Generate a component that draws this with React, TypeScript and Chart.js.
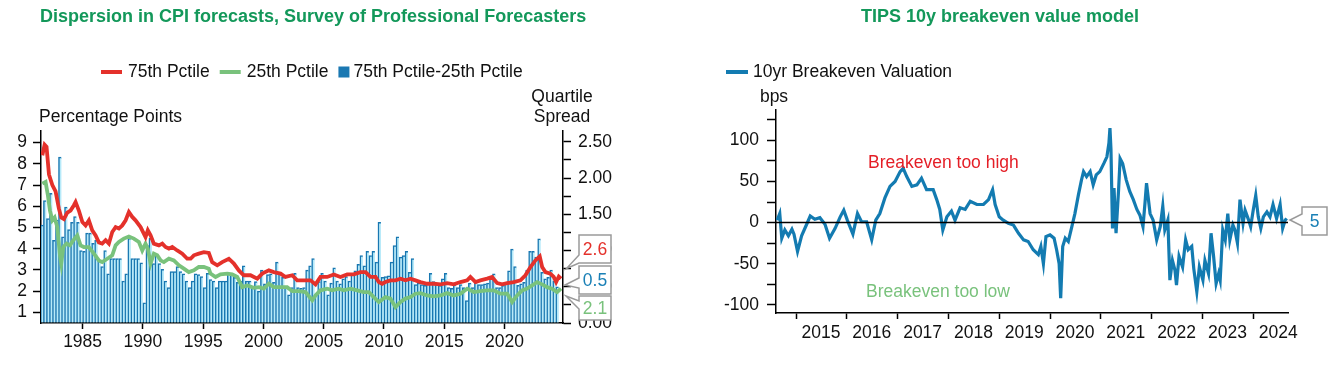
import React, { useEffect, useRef } from 'react';
import { Chart, registerables } from 'chart.js';
Chart.register(...registerables);

const FONT = "'Liberation Sans', Arial, Helvetica, sans-serif";
const TEXT = '#111111';
const TITLE_GREEN = '#13985a';
const RED = '#e4312b';
const GREEN = '#79c27c';
const BAR_DARK = '#1877b1';
const BAR_LIGHT = '#b7eaf9';
const BE_BLUE = '#137bb1';

// ---------------- Left chart data ----------------
const LEFT_TITLE = 'Dispersion in CPI forecasts, Survey of Professional Forecasters';
const FIRST_QUARTER_MID = 1981.625; // 1981Q3
const spreadValues = [
  1.35, 1.69, 1.44, 1.79, 1.14, 1.42, 2.29, 1.19, 1.60, 1.29,
  1.39, 1.47, 1.39, 1.00, 0.99, 1.24, 1.24, 1.10, 1.14, 0.86,
  0.78, 1.00, 0.68, 0.89, 0.89, 0.89, 0.89, 0.58, 0.68, 1.17,
  0.89, 0.89, 0.89, 0.83, 0.28, 1.07, 1.17, 0.82, 0.93, 0.82,
  0.74, 0.58, 0.49, 0.71, 0.71, 0.78, 0.71, 0.68, 0.58, 0.49,
  0.58, 0.68, 0.67,
  0.64, 0.49, 0.685, 0.60, 0.58, 0.49, 0.58, 0.58, 0.58, 0.685,
  0.685, 0.63, 0.56, 0.58, 0.79, 0.58, 0.58, 0.49, 0.57, 0.44,
  0.73, 0.54, 0.67, 0.68, 0.56, 0.84, 0.70, 0.63, 0.49, 0.39,
  0.49, 0.685, 0.49, 0.48, 0.49, 0.73, 0.79, 0.89, 0.40, 0.57,
  0.685, 0.58, 0.39, 0.55, 0.76, 0.58, 0.54, 0.61, 0.64, 0.58,
  0.68, 0.72, 0.81, 0.93, 0.79, 0.99, 0.93, 0.99, 0.84, 1.39,
  0.63, 0.64, 0.65, 0.84, 1.07, 1.19, 0.91, 0.93, 0.99, 0.70,
  0.89, 0.53, 0.55, 0.53, 0.52, 0.54, 0.685, 0.57, 0.54, 0.52,
  0.61, 0.685, 0.49, 0.48, 0.53, 0.49, 0.53, 0.49, 0.31, 0.55,
  0.49, 0.56, 0.53, 0.53, 0.54, 0.55, 0.63, 0.68, 0.49, 0.49,
  0.52, 0.56, 0.72, 1.02, 0.78, 0.52, 0.54, 0.56, 0.73, 0.99,
  0.99, 0.91, 1.16, 0.70, 0.61, 0.63, 0.73, 0.58, 0.50,
];

const p75Years = [
  1981.66, 1981.85, 1982.01, 1982.21, 1982.49, 1982.76, 1983.03, 1983.23, 1983.45, 1983.73,
  1984.0, 1984.28, 1984.42, 1984.69, 1984.98, 1985.25, 1985.52, 1985.8, 1986.08, 1986.35,
  1986.63, 1986.91, 1987.18, 1987.46, 1987.74, 1988.01, 1988.29, 1988.57, 1988.84, 1989.12,
  1989.39, 1989.81, 1990.22, 1990.41, 1990.64, 1990.91, 1991.33, 1991.61, 1991.88, 1992.16,
  1992.44, 1992.85, 1993.27, 1993.68, 1993.96, 1994.23, 1994.64, 1995.06, 1995.47, 1995.75,
  1996.17, 1996.58, 1997.13, 1997.55, 1997.96, 1998.37, 1998.93, 1999.49, 1999.9, 2000.45,
  2000.86, 2001.42, 2001.83, 2002.39, 2002.8, 2003.35, 2003.91, 2004.32, 2004.73, 2005.29,
  2005.84, 2006.39, 2006.95, 2007.5, 2008.05, 2008.47, 2008.88, 2009.3, 2009.57, 2009.85,
  2010.12, 2010.54, 2010.95, 2011.37, 2011.78, 2012.2, 2012.61, 2013.03, 2013.58, 2014.13,
  2014.69, 2015.24, 2015.79, 2016.34, 2016.9, 2017.17, 2017.59, 2018.0, 2018.56, 2018.97,
  2019.39, 2019.8, 2020.22, 2020.76, 2021.32, 2021.73, 2022.15, 2022.56, 2022.92, 2023.12,
  2023.39, 2023.8, 2024.08, 2024.28, 2024.5, 2024.69,
];
const p75Values = [
  8.4, 8.9, 8.8, 7.5, 7.0, 6.7, 5.9, 5.47, 5.4, 5.7,
  5.8, 6.05, 6.2, 5.8, 5.26, 5.1, 5.34, 4.87, 4.63, 4.3,
  4.24, 4.4, 4.24, 4.79, 5.02, 4.95, 5.1, 5.34, 5.73, 5.5,
  5.34, 5.02, 4.55, 4.87, 4.63, 4.24, 4.16, 4.24, 4.08, 4.0,
  4.08, 3.92, 3.77, 3.53, 3.53, 3.69, 3.77, 3.84, 3.8, 3.37,
  3.22, 3.37, 3.53, 3.3, 2.98, 2.75, 2.75, 2.59, 2.83, 2.98,
  2.9, 2.83, 2.67, 2.75, 2.51, 2.51, 2.51, 2.32, 2.67, 2.67,
  2.79, 2.67, 2.79, 2.79, 2.9, 2.9, 2.67, 2.67, 2.43, 2.35,
  2.43, 2.51, 2.51, 2.59, 2.51, 2.59, 2.51, 2.43, 2.35, 2.35,
  2.32, 2.38, 2.32, 2.43, 2.51, 2.67, 2.43, 2.51, 2.59, 2.67,
  2.38, 2.32, 2.38, 2.43, 2.51, 2.75, 3.14, 3.45, 3.64, 3.14,
  2.9, 2.83, 2.67, 2.43, 2.69, 2.59,
];

const p25Years = [
  1981.66, 1981.93, 1982.12, 1982.29, 1982.49, 1982.68, 1982.9, 1983.12, 1983.23, 1983.4,
  1983.67, 1983.95, 1984.23, 1984.56, 1984.83, 1985.11, 1985.52, 1985.94, 1986.35, 1986.63,
  1987.05, 1987.46, 1987.74, 1988.01, 1988.42, 1988.84, 1989.25, 1989.67, 1989.95, 1990.22,
  1990.41, 1990.64, 1990.91, 1991.19, 1991.47, 1991.74, 1992.16, 1992.57, 1992.99, 1993.4,
  1993.81, 1994.23, 1994.64, 1995.06, 1995.47, 1995.61, 1996.03, 1996.44, 1997.0, 1997.41,
  1997.83, 1998.24, 1998.66, 1999.2, 1999.62, 2000.03, 2000.45, 2000.86, 2001.42, 2001.97,
  2002.39, 2002.94, 2003.49, 2004.05, 2004.32, 2004.73, 2005.29, 2005.7, 2006.25, 2006.67,
  2007.22, 2007.78, 2008.33, 2008.74, 2009.15, 2009.57, 2010.12, 2010.54, 2010.95, 2011.37,
  2011.78, 2012.2, 2012.61, 2013.03, 2013.58, 2014.13, 2014.69, 2015.24, 2015.79, 2016.34,
  2016.9, 2017.45, 2018.0, 2018.56, 2019.1, 2019.66, 2020.22, 2020.63, 2021.04, 2021.46,
  2021.87, 2022.29, 2022.7, 2023.12, 2023.53, 2023.94, 2024.36, 2024.69,
];
const p25Values = [
  7.07, 7.15, 6.52, 5.81, 5.34, 5.47, 5.02, 3.69, 3.3, 4.08,
  4.24, 4.16, 4.4, 4.63, 4.16, 4.08, 4.08, 3.77, 3.45, 3.37,
  3.53, 3.69, 4.16, 4.32, 4.48, 4.58, 4.48, 4.32, 3.92, 4.24,
  4.0, 3.3, 3.77, 3.69, 3.45, 3.37, 3.53, 3.45, 3.22, 3.06,
  2.9, 2.98, 3.14, 3.14, 3.06, 2.83, 2.67, 2.79, 2.83, 2.79,
  2.67, 2.19, 2.27, 2.16, 2.19, 2.12, 2.35, 2.19, 2.19, 2.19,
  2.0, 2.0, 1.96, 1.57, 1.8, 2.04, 2.12, 2.04, 2.12, 2.04,
  2.12, 2.04, 1.96, 1.96, 1.72, 1.49, 1.72, 1.65, 1.25, 1.49,
  1.65, 1.72, 1.88, 1.91, 1.8, 1.76, 1.8, 1.91, 1.8, 1.88,
  2.12, 1.96, 2.0, 2.04, 2.04, 1.88, 1.88, 1.49, 1.8, 2.04,
  2.12, 2.27, 2.43, 2.32, 2.19, 2.12, 1.96, 2.12,
];

const leftXTicks = [1985, 1990, 1995, 2000, 2005, 2010, 2015, 2020];
const leftYTicks = [1, 2, 3, 4, 5, 6, 7, 8, 9];
const spreadTicks = [0, 0.25, 0.5, 0.75, 1, 1.25, 1.5, 1.75, 2, 2.25, 2.5];
const leftLegend = [
  { label: '75th Pctile', color: RED, kind: 'line' },
  { label: '25th Pctile', color: GREEN, kind: 'line' },
  { label: '75th Pctile-25th Pctile', color: '#1a78b2', kind: 'box' },
];
const leftCallouts = [
  { text: '2.6', color: RED, box: [579, 235, 32, 28], tip: [566.5, 268.5], base: [255, 263] },
  { text: '0.5', color: '#1a80b6', box: [579, 266, 32, 28], tip: [565, 285], base: [278, 288] },
  { text: '2.1', color: GREEN, box: [579, 296, 32, 24], tip: [566, 296], base: [301, 309] },
];

// ---------------- Right chart data ----------------
const RIGHT_TITLE = 'TIPS 10y breakeven value model';
const beYears = [
  2014.63, 2014.68, 2014.72, 2014.78, 2014.85, 2014.92, 2014.96, 2015.03, 2015.11, 2015.21,
  2015.28, 2015.37, 2015.47, 2015.57, 2015.66, 2015.77, 2015.87, 2015.94, 2016.01, 2016.12,
  2016.21, 2016.29, 2016.39, 2016.49, 2016.57, 2016.65, 2016.75, 2016.85, 2016.95, 2017.05,
  2017.11, 2017.18, 2017.28, 2017.38, 2017.47, 2017.57, 2017.7, 2017.77, 2017.83, 2017.89,
  2017.97, 2018.06, 2018.13, 2018.23, 2018.33, 2018.43, 2018.56, 2018.69, 2018.79, 2018.87,
  2018.92, 2019.0, 2019.08, 2019.18, 2019.28, 2019.38, 2019.48, 2019.57, 2019.67, 2019.77,
  2019.82, 2019.87, 2019.92, 2020.0, 2020.08, 2020.13, 2020.18, 2020.21, 2020.25, 2020.3,
  2020.36, 2020.43, 2020.49, 2020.56, 2020.62, 2020.66, 2020.72, 2020.79, 2020.85, 2020.91,
  2020.98, 2021.06, 2021.12, 2021.16, 2021.18, 2021.2, 2021.23, 2021.26, 2021.3, 2021.35,
  2021.38, 2021.43, 2021.5, 2021.57, 2021.64, 2021.71, 2021.77, 2021.83, 2021.87, 2021.9,
  2021.97, 2022.03, 2022.1, 2022.17, 2022.22, 2022.26, 2022.32, 2022.36, 2022.41, 2022.46,
  2022.49, 2022.54, 2022.61, 2022.67, 2022.72, 2022.79, 2022.83, 2022.89, 2022.94, 2023.01,
  2023.05, 2023.12, 2023.17, 2023.22, 2023.27, 2023.32, 2023.35, 2023.4, 2023.45, 2023.5,
  2023.54, 2023.6, 2023.64, 2023.69, 2023.74, 2023.8, 2023.84, 2023.91, 2023.95, 2024.0,
  2024.05, 2024.1, 2024.15, 2024.2, 2024.27, 2024.33, 2024.39, 2024.46, 2024.53, 2024.58,
  2024.63, 2024.66,
];
const beValues = [
  3, 11, -19, -9, -16, -8, -14, -35, -16, -2,
  8, 4, 6, -2, -19, -7, 7, 15, 3, -14,
  11, 1, 1, -21, 3, 11, 30, 44, 50, 62,
  66, 56, 44, 46, 54, 40, 40, 28, 16, -9,
  7, 14, 3, 18, 16, 26, 22, 22, 28, 40,
  22, 7, 3, -1, -3, -13, -21, -23, -33, -39,
  -29, -50, -17, -15, -19, -33, -50, -92, -29, -19,
  -23, -5, 11, 34, 52, 62, 56, 62, 46, 58,
  62, 72, 80, 97, 115, 89, -7, 42, -13, 40,
  78, 72, 52, 38, 28, 16, 9, -5, 24, 48,
  11, 3, -21, -5, 20, -9, 3, -70, -46, -58,
  -76, -41, -54, -21, -33, -29, -56, -84, -54, -70,
  -46, -62, -13, -41, -74, -62, -70, -9, -21, 11,
  -21, -3, -9, -25, 28, -1, 15, 3, -5, 15,
  33, 7, -7, 7, 13, 7, 22, 5, 22, -7,
  3, 5,
];
const beXTicks = [2015, 2016, 2017, 2018, 2019, 2020, 2021, 2022, 2023, 2024];
const beYTicks = [-100, -75, -50, -25, 0, 25, 50, 75, 100, 125];

// ---------------- helpers ----------------
const tickFont = { family: FONT, size: 17.5 };
const axisGrid = (len: number) => ({
  offset: false,
  drawOnChartArea: false,
  drawTicks: true,
  tickLength: len,
  tickColor: '#000',
  tickWidth: 1.5,
  color: '#000',
});
const axisBorder = { display: true, color: '#000', width: 1.5 };
const setTicks = (arr: number[]) => (scale: any) => {
  scale.ticks = arr.map((v) => ({ value: v }));
};

function drawCallout(ctx: CanvasRenderingContext2D, c: any) {
  const [bx, by, bw, bh] = c.box;
  const [tx, ty] = c.tip;
  const [b1, b2] = c.base;
  ctx.beginPath();
  ctx.moveTo(bx, by);
  ctx.lineTo(bx + bw, by);
  ctx.lineTo(bx + bw, by + bh);
  ctx.lineTo(bx, by + bh);
  ctx.lineTo(bx, b2);
  ctx.lineTo(tx, ty);
  ctx.lineTo(bx, b1);
  ctx.closePath();
  ctx.fillStyle = '#ffffff';
  ctx.fill();
  ctx.strokeStyle = '#9a9a9a';
  ctx.lineWidth = 1.5;
  ctx.stroke();
  ctx.fillStyle = c.color;
  ctx.textAlign = 'center';
  ctx.textBaseline = 'middle';
  ctx.font = `17.5px ${FONT}`;
  ctx.fillText(c.text, bx + bw / 2, by + bh / 2 + 1);
}

const leftOverlay = {
  id: 'leftOverlay',
  afterDraw(chart: any) {
    const ctx: CanvasRenderingContext2D = chart.ctx;
    ctx.save();
    ctx.textBaseline = 'middle';
    ctx.textAlign = 'left';
    ctx.font = `bold 18px ${FONT}`;
    ctx.fillStyle = TITLE_GREEN;
    ctx.fillText(LEFT_TITLE, 40, 17);

    ctx.font = `17.5px ${FONT}`;
    let x = 101;
    const ly = 72;
    leftLegend.forEach((item) => {
      ctx.fillStyle = item.color;
      if (item.kind === 'line') {
        ctx.fillRect(x, ly - 2, 21, 4);
        x += 27;
      } else {
        ctx.fillRect(x, ly - 5.5, 11, 11);
        x += 15;
      }
      ctx.fillStyle = TEXT;
      ctx.fillText(item.label, x, ly);
      x += ctx.measureText(item.label).width + 10;
    });

    ctx.fillStyle = TEXT;
    ctx.fillText('Percentage Points', 39, 117);
    ctx.textAlign = 'center';
    ctx.fillText('Quartile', 562, 97);
    ctx.fillText('Spread', 562, 117);

    leftCallouts.forEach((c) => drawCallout(ctx, c));
    ctx.restore();
  },
};

const rightOverlay = {
  id: 'rightOverlay',
  afterDatasetsDraw(chart: any) {
    const ctx: CanvasRenderingContext2D = chart.ctx;
    const y0 = chart.scales.y.getPixelForValue(0);
    ctx.save();
    ctx.strokeStyle = '#000';
    ctx.lineWidth = 1.5;
    ctx.beginPath();
    ctx.moveTo(chart.chartArea.left, y0);
    ctx.lineTo(chart.chartArea.right, y0);
    ctx.stroke();
    ctx.restore();
  },
  afterDraw(chart: any) {
    const ctx: CanvasRenderingContext2D = chart.ctx;
    ctx.save();
    ctx.textBaseline = 'middle';
    ctx.textAlign = 'center';
    ctx.font = `bold 18px ${FONT}`;
    ctx.fillStyle = TITLE_GREEN;
    ctx.fillText(RIGHT_TITLE, 333, 17);

    ctx.font = `17.5px ${FONT}`;
    ctx.textAlign = 'left';
    ctx.fillStyle = BE_BLUE;
    ctx.fillRect(59, 70, 22, 4);
    ctx.fillStyle = TEXT;
    ctx.fillText('10yr Breakeven Valuation', 86, 72);

    ctx.textAlign = 'center';
    ctx.fillText('bps', 107, 97);

    ctx.textAlign = 'left';
    ctx.fillStyle = '#e41e26';
    ctx.fillText('Breakeven too high', 201, 163);
    ctx.fillStyle = GREEN;
    ctx.fillText('Breakeven too low', 199, 292);

    drawCallout(ctx, {
      text: '5',
      color: '#1a80b6',
      box: [635, 207, 25, 28],
      tip: [623, 220],
      base: [214, 226],
    });
    ctx.restore();
  },
};

function leftConfig(): any {
  return {
    type: 'bar',
    data: {
      datasets: [
        {
          type: 'line',
          label: '75th Pctile',
          data: p75Years.map((x, i) => ({ x, y: p75Values[i] })),
          borderColor: RED,
          borderWidth: 3.8,
          pointRadius: 0,
          tension: 0,
          yAxisID: 'y',
          order: 0,
        },
        {
          type: 'line',
          label: '25th Pctile',
          data: p25Years.map((x, i) => ({ x, y: p25Values[i] })),
          borderColor: GREEN,
          borderWidth: 3.8,
          pointRadius: 0,
          tension: 0,
          yAxisID: 'y',
          order: 1,
        },
        {
          type: 'bar',
          label: '75th Pctile-25th Pctile',
          data: spreadValues.map((v, i) => ({ x: FIRST_QUARTER_MID + i * 0.25, y: v })),
          backgroundColor: BAR_LIGHT,
          borderColor: BAR_DARK,
          borderWidth: { left: 2.3, top: 1.5, right: 0, bottom: 0 },
          borderSkipped: false,
          barPercentage: 1,
          categoryPercentage: 1,
          yAxisID: 'y1',
          order: 2,
        },
      ],
    },
    options: {
      responsive: false,
      animation: false,
      devicePixelRatio: 1,
      layout: { padding: { top: 131, left: 0, right: 0, bottom: 0 } },
      plugins: { legend: { display: false }, tooltip: { enabled: false } },
      scales: {
        x: {
          type: 'linear',
          offset: false,
          min: 1981.55,
          max: 2024.85,
          afterBuildTicks: setTicks(leftXTicks),
          afterFit: (s: any) => { s.height = 42; },
          ticks: { callback: (v: any) => String(v), font: tickFont, color: TEXT, padding: 3, maxRotation: 0, autoSkip: false },
          grid: axisGrid(6),
          border: axisBorder,
        },
        y: {
          position: 'left',
          min: 0.5,
          max: 9.55,
          afterBuildTicks: setTicks(leftYTicks),
          afterFit: (s: any) => { s.width = 41; },
          ticks: { callback: (v: any) => String(v), font: tickFont, color: TEXT, padding: 6, autoSkip: false },
          grid: axisGrid(8),
          border: axisBorder,
        },
        y1: {
          position: 'right',
          min: 0,
          max: 2.65,
          afterBuildTicks: setTicks(spreadTicks),
          afterFit: (s: any) => { s.width = 104; },
          ticks: {
            callback: (v: any) => (Math.abs(v * 2 - Math.round(v * 2)) < 1e-6 ? Number(v).toFixed(2) : ''),
            font: tickFont,
            color: TEXT,
            padding: 7,
            autoSkip: false,
          },
          grid: axisGrid(8),
          border: axisBorder,
        },
      },
    },
    plugins: [leftOverlay],
  };
}

function rightConfig(): any {
  return {
    type: 'line',
    data: {
      datasets: [
        {
          label: '10yr Breakeven Valuation',
          data: beYears.map((x, i) => ({ x, y: beValues[i] })),
          borderColor: BE_BLUE,
          borderWidth: 3.2,
          pointRadius: 0,
          tension: 0,
        },
      ],
    },
    options: {
      responsive: false,
      animation: false,
      devicePixelRatio: 1,
      layout: { padding: { top: 110, left: 0, right: 46, bottom: 0 } },
      plugins: { legend: { display: false }, tooltip: { enabled: false } },
      scales: {
        x: {
          type: 'linear',
          min: 2014.606,
          max: 2024.685,
          afterBuildTicks: setTicks(beXTicks),
          afterFit: (s: any) => { s.height = 52; },
          ticks: { callback: (v: any) => String(v), font: tickFont, color: TEXT, padding: 4, labelOffset: 25, maxRotation: 0, autoSkip: false },
          grid: axisGrid(6),
          border: axisBorder,
        },
        y: {
          min: -110,
          max: 137,
          afterBuildTicks: setTicks(beYTicks),
          afterFit: (s: any) => { s.width = 109; },
          ticks: { callback: (v: any) => (v % 50 === 0 ? String(v) : ''), font: tickFont, color: TEXT, padding: 8, autoSkip: false },
          grid: axisGrid(9),
          border: axisBorder,
        },
      },
    },
    plugins: [rightOverlay],
  };
}

export default function App() {
  const leftRef = useRef<HTMLCanvasElement>(null);
  const rightRef = useRef<HTMLCanvasElement>(null);
  useEffect(() => {
    const c1 = new Chart(leftRef.current as HTMLCanvasElement, leftConfig());
    const c2 = new Chart(rightRef.current as HTMLCanvasElement, rightConfig());
    return () => {
      c1.destroy();
      c2.destroy();
    };
  }, []);
  return (
    <div style={{ position: 'absolute', left: 0, top: 0, width: 1334, height: 365, background: '#ffffff' }}>
      <canvas ref={leftRef} width={667} height={365} style={{ position: 'absolute', left: 0, top: 0, width: 667, height: 365 }} />
      <canvas ref={rightRef} width={667} height={365} style={{ position: 'absolute', left: 667, top: 0, width: 667, height: 365 }} />
    </div>
  );
}
